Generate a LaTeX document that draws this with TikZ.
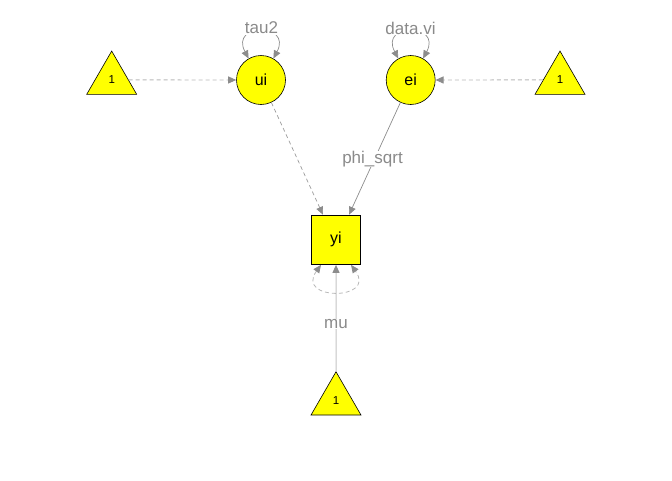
\documentclass[tikz,border=0pt]{standalone}
\usepackage{fontspec}
\setmainfont{Liberation Sans}
\usetikzlibrary{arrows.meta,shapes.geometric}
\definecolor{nodeyellow}{HTML}{FFFF00}
\definecolor{edgegray}{HTML}{8C8C8C}
\definecolor{fadegray}{HTML}{B8B8B8}
\definecolor{labelgray}{HTML}{8A8A8A}
\tikzset{
  latent/.style={circle, draw=black, line width=0.6pt, fill=nodeyellow, minimum size=49pt, inner sep=0pt, font=\fontsize{16}{16}\selectfont},
  manifest/.style={rectangle, draw=black, line width=0.6pt, fill=nodeyellow, minimum size=49.5pt, inner sep=0pt, font=\fontsize{16}{16}\selectfont},
  constnode/.style={regular polygon, regular polygon sides=3, draw=black, line width=0.6pt, fill=nodeyellow, minimum size=57.7pt, inner sep=0pt, font=\fontsize{11.5}{11.5}\selectfont},
  elabel/.style={fill=white, inner sep=0.5pt, text=labelgray, font=\fontsize{17}{17}\selectfont},
  tip/.style={-{Triangle[length=8pt,width=7pt,color=edgegray]}},
  twotips/.style={{Triangle[length=8pt,width=7pt,color=edgegray]}-{Triangle[length=8pt,width=7pt,color=edgegray]}},
  solidedge/.style={draw=edgegray, line width=0.7pt, tip},
  dashedge/.style={draw=edgegray!85, line width=0.7pt, dash pattern=on 4pt off 3pt, tip},
  fadedash/.style={draw=fadegray, line width=0.9pt, dash pattern=on 4pt off 3pt, tip},
  fadesolid/.style={draw=fadegray!85, line width=1pt, tip},
  loopedge/.style={draw=edgegray, line width=0.7pt, twotips},
  fadeloop/.style={draw=fadegray, line width=0.8pt, dash pattern=on 4pt off 3pt, twotips}
}
\begin{document}
\begin{tikzpicture}[x=1pt,y=-1pt]
\path[use as bounding box] (0,0) rectangle (672,480);

% nodes
\node[latent] (ui) at (261,80) {ui};
\node[latent] (ei) at (410.7,80) {ei};
\node[manifest] (yi) at (336,239.8) {yi};
\node[constnode] (c1) at (111.7,79.9) {1};
\node[constnode] (c2) at (560,79.9) {1};
\node[constnode] (c3) at (336,400.6) {1};

% edges
\draw[fadedash] (c1) -- (ui);
\draw[fadedash] (c2) -- (ei);
\draw[dashedge] (ui) -- ([xshift=-13pt]yi.north);
\draw[solidedge] (ei) -- ([xshift=13pt]yi.north);
\draw[fadesolid] (c3.north) -- (yi.south);

% self loops
\draw[loopedge] (ui.120) .. controls +(-19,-36) and +(19,-36) .. (ui.60);
\draw[loopedge] (ei.120) .. controls +(-19,-36) and +(19,-36) .. (ei.60);
\draw[fadeloop] ([xshift=-15pt]yi.south) .. controls +(-26,36) and +(26,36) .. ([xshift=15pt]yi.south);

% edge labels
\node[elabel] (ltau) at (261.5,28) {tau2};
\node[elabel] (ldata) at (410.5,28) {data.vi};
\node[elabel] (lphi) at (372.5,159) {phi\_sqrt};
\node[elabel] (lmu) at (336,324) {mu};
\end{tikzpicture}
\end{document}
